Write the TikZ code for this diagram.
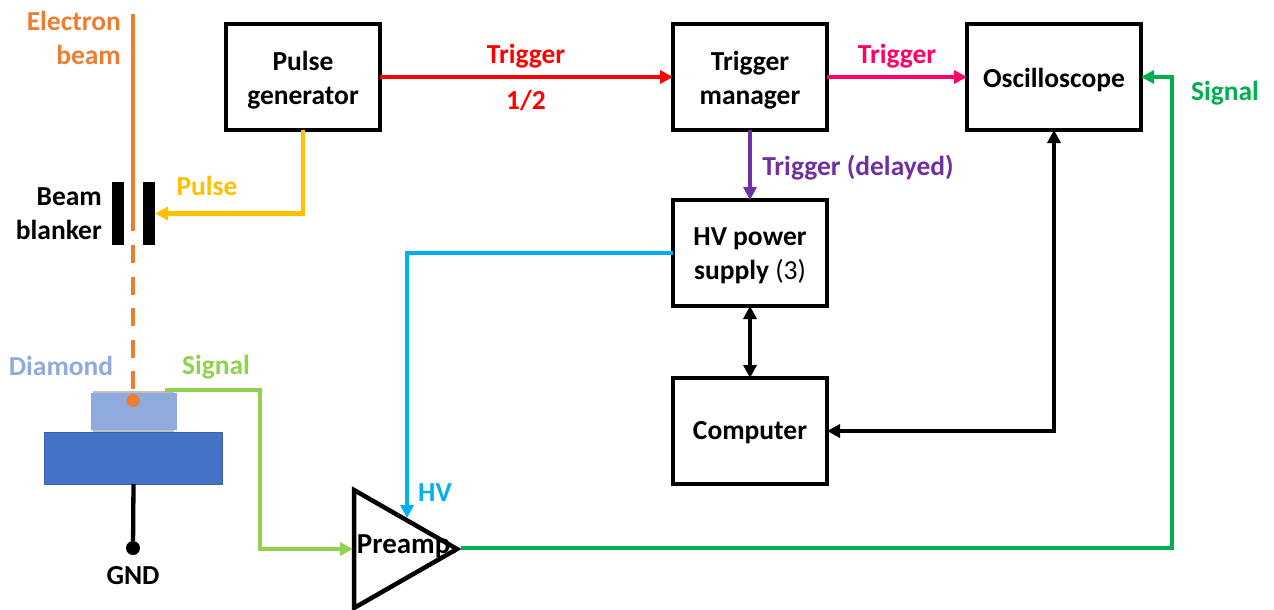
\documentclass[tikz,border=0pt]{standalone}
\usepackage{fontspec}
\setmainfont{Carlito}
\usetikzlibrary{arrows.meta,positioning,shapes.geometric}
\definecolor{beamorange}{HTML}{ED7D31}
\definecolor{pulseyellow}{HTML}{FFC000}
\definecolor{trigred}{HTML}{FF0000}
\definecolor{trigpink}{HTML}{FF0066}
\definecolor{trigpurple}{HTML}{7030A0}
\definecolor{hvblue}{HTML}{00B0F0}
\definecolor{sigdark}{HTML}{00B050}
\definecolor{siglight}{HTML}{92D050}
\definecolor{diamondblue}{HTML}{8FAADC}
\definecolor{baseblue}{HTML}{4472C4}
\newcommand\lowered[1]{\raisebox{-3pt}[\height][\depth]{#1}}
\tikzset{
  font=\fontsize{27.5}{34}\selectfont\bfseries,
  block/.style={
    draw=black, line width=4.8pt, fill=white, outer sep=0pt, inner sep=0pt,
    minimum width=154pt, minimum height=106pt, align=center
  },
  plate/.style={fill=black, outer sep=0pt, inner sep=0pt, minimum width=12pt, minimum height=63pt},
  tag/.style={inner sep=0pt, align=center},
  wire/.style={-{Triangle[length=13pt,width=13pt]}, line width=4.3pt},
  duplex/.style={{Triangle[length=13pt,width=13pt]}-{Triangle[length=13pt,width=13pt]}, line width=4.3pt, draw=black}
}
\begin{document}
\begin{tikzpicture}[x=1pt,y=-1pt,node distance=70pt and 140pt]
  \useasboundingbox (0,0) rectangle (1274,610);

  \node[block, anchor=north west] (pulse) at (226,24) {\lowered{Pulse}\\\lowered{generator}};
  \node[block, right=293pt of pulse] (manager) {\lowered{Trigger}\\\lowered{manager}};
  \node[block, minimum width=174pt, right=of manager] (scope) {\lowered{Oscilloscope}};
  \node[block, below=of manager] (supply) {\lowered{HV power}\\\lowered{supply {\mdseries(3)}}};
  \node[block, below=72pt of supply] (computer) {\raisebox{-2pt}[\height][\depth]{Computer}};

  % beam line and sample
  \node[plate] (leftplate) at (118,213.5) {};
  \node[plate] (rightplate) at (149,213.5) {};
  \node[draw=black!25, fill=black!25, minimum width=80pt, minimum height=41pt, inner sep=0pt] (coating) at (133,411.5) {};
  \node[fill=diamondblue, minimum width=86pt, minimum height=37pt, inner sep=0pt, outer sep=0pt] (diamond) at (134,411.5) {};
  \node[draw=baseblue!85!black, line width=0.8pt, fill=baseblue, minimum width=178.5pt, minimum height=52pt, inner sep=0pt, outer sep=0pt] (mount) at (133.5,458) {};
  \node[circle, fill=beamorange, minimum size=13pt, inner sep=0pt] (spot) at (133,400.5) {};
  \node[circle, fill=black, minimum size=14pt, inner sep=0pt] (ground) at (133,548) {};
  \coordinate (beamtop) at (133,14);
  \coordinate (beamgap) at (133,231);
  \coordinate (beamlow) at (133,245);
  \coordinate (spottop) at (133,389);
  \draw[draw=beamorange, line width=4pt] (beamtop) -- (beamgap);
  \draw[draw=beamorange, line width=4pt, dash pattern=on 18pt off 13.5pt] (beamlow) -- (spottop);
  \fill[beamorange] (spot.west) -- ([yshift=8pt]spot.center) -- (spot.east) -- cycle;
  \draw[line width=4.3pt] (mount.south) -- (ground);

  \node[draw=black, line width=4.5pt, isosceles triangle, isosceles triangle apex angle=59.6, isosceles triangle stretches,
    minimum height=103pt, minimum width=118pt, inner sep=0pt, outer sep=0pt, anchor=apex] (preamp) at (457,549) {};

  \coordinate (sigstart) at (165,390);
  \coordinate (hvdrop) at (407,518);
  \coordinate (preampin) at (353,549);
  \coordinate (preampout) at (461,548);
  \coordinate (scopein) at (scope.east);

  \draw[wire, draw=trigred] (pulse.east |- manager.west) -- (manager.west);
  \draw[wire, draw=trigpink] (manager.east) -- (scope.west);
  \draw[wire, draw=trigpurple] (manager.south) -- (supply.north);
  \draw[wire, draw=pulseyellow] (pulse.south) |- (rightplate.east);
  \draw[wire, draw=hvblue] (supply.west) -| (hvdrop);
  \draw[wire, draw=siglight] (sigstart) -| (260,549) -- (preampin);
  \draw[wire, draw=sigdark] (preampout) -| (1172,77) -- (scopein);
  \draw[duplex] (supply.south) -- (computer.north);
  \draw[duplex] (computer.east) -| (scope.south);

  \node[tag, text=beamorange, align=right, anchor=east] (beamtag) at (121,37.5) {Electron\\beam};
  \node[tag, align=right, anchor=east] (blankertag) at (102,214) {Beam\\blanker};
  \node[tag, text=pulseyellow] (pulsetag) at (207,186) {Pulse};
  \node[tag, text=trigred] (firsttag) at (526,56.5) {Trigger};
  \node[tag, text=trigred] (halftag) at (526,100.5) {1/2};
  \node[tag, text=trigpink] (secondtag) at (897,56.5) {Trigger};
  \node[tag, text=trigpurple] (delaytag) at (858,167.5) {Trigger (delayed)};
  \node[tag, text=sigdark] (sigtag) at (1225,93) {Signal};
  \node[tag, text=siglight] (rawtag) at (216,367.5) {Signal};
  \node[tag, text=diamondblue] (diamondtag) at (61,366) {Diamond};
  \node[tag, text=hvblue] (hvtag) at (435,493) {HV};
  \node[tag] (gndtag) at (133,576) {GND};
  \node[tag, font=\fontsize{29}{34}\selectfont\bfseries] (preamptag) at (407.5,546.5) {Preamp.};
\end{tikzpicture}
\end{document}
